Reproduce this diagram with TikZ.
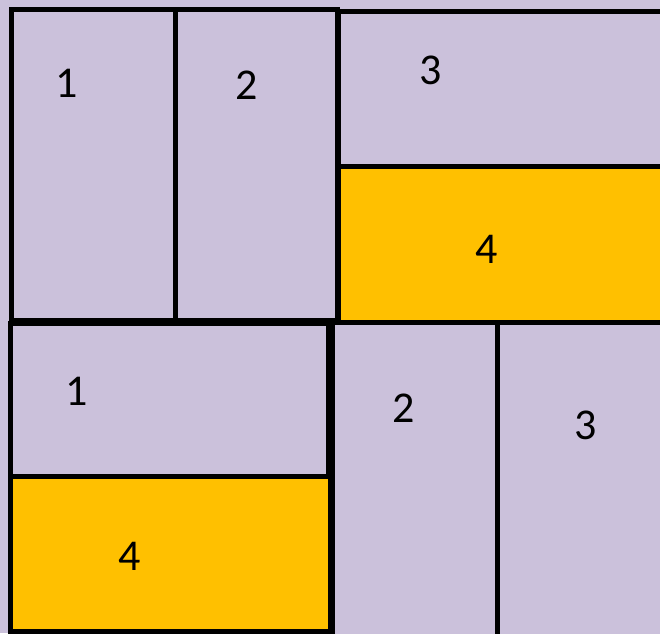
\documentclass[tikz,border=0pt]{standalone}
\usepackage{fontspec}
\setmainfont{Carlito}
\definecolor{lav}{HTML}{CBC1DB}
\definecolor{gold}{HTML}{FFC000}
\tikzset{
  cell/.style={draw=black, line width=5pt, fill=lav},
  goldcell/.style={draw=black, line width=5pt, fill=gold},
  sep/.style={draw=black, line width=5pt},
  lbl/.style={inner sep=0pt, font=\fontsize{44}{44}\selectfont}
}
\begin{document}
\begin{tikzpicture}[x=1pt,y=-1pt]
\useasboundingbox (0,0) rectangle (660,633);
\clip (0,0) rectangle (660,633);
\fill[lav] (0,0) rectangle (660,633);
% top-left block
\draw[cell] (11,9.5) rectangle (337.5,320);
\draw[sep] (175.5,9.5) -- (175.5,320);
% top-right block
\draw[cell] (338,11.5) rectangle (690,166);
\draw[goldcell] (338,166) rectangle (690,322);
% bottom-right block
\draw[cell] (332.5,322.5) rectangle (690,670);
\draw[sep] (497.5,322.5) -- (497.5,670);
% bottom-left block
\draw[cell] (10.5,323.5) rectangle (328,476);
\draw[goldcell] (10.5,476) rectangle (330.5,631);
% labels
\node[lbl] (a1) at (67,83) {1};
\node[lbl] (a2) at (247,85) {2};
\node[lbl] (a3) at (431,70) {3};
\node[lbl] (a4) at (487,249) {4};
\node[lbl] (b1) at (77,391) {1};
\node[lbl] (b4) at (130,556) {4};
\node[lbl] (b2) at (404,408) {2};
\node[lbl] (b3) at (586,425) {3};
\end{tikzpicture}
\end{document}
